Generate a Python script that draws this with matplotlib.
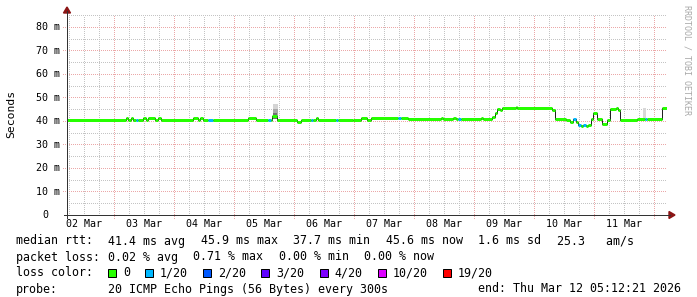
import datetime as dt
import numpy as np
import matplotlib
matplotlib.use("Agg")
import matplotlib.pyplot as plt
from matplotlib.patches import Polygon, Rectangle

# figure is 697 x 297 px, plot area 600 x 200 px (rrdtool / smokeping layout)
W, H = 697, 297
PL, PT, PW, PH = 67, 15, 600, 200

start = dt.datetime(2026, 3, 2, 5, 12, 21)
end = dt.datetime(2026, 3, 12, 5, 12, 21)
span_h = (end - start).total_seconds() / 3600.0
ymax = 85.1

# median rtt as steps: edges in hours since start, value in ms, loss level index
t_edges = [0, 23.6, 24.4, 25.6, 26.4, 27.6, 28.4, 30.4, 31.6, 32.4, 35.2, 36.4, 37.6,
           50.4, 52.4, 53.2, 54.4, 56.4, 58.4, 72.4, 75.6, 80.4, 81.6, 82.0, 84.0,
           92.0, 93.6, 97.6, 98.4, 99.6, 100.4, 107.6, 108.4, 114.4, 117.6, 120.0,
           121.6, 132.4, 133.6, 136.4, 149.6, 150.4, 154.4, 155.6, 156.4, 157.6,
           165.6, 166.4, 170.0, 171.2, 172.0, 173.2, 174.0, 179.6, 180.0, 194.0,
           195.2, 199.6, 201.2, 202.4, 203.6, 204.4, 205.6, 206.4, 207.6, 208.4,
           209.6, 210.4, 212.0, 214.0, 216.0, 217.2, 219.6, 220.4, 221.2, 228.0,
           231.2, 232.0, 238.0, 240.0]
median_ms = [40.4, 41.1, 40.4, 41.1, 40.4, 40.4, 40.4, 41.1, 40.4, 41.1, 40.4, 41.1,
             40.4, 41.1, 40.4, 41.3, 40.4, 40.4, 40.4, 41.1, 40.4, 40.4, 40.4, 42.0,
             40.4, 39.4, 40.4, 40.4, 40.4, 41.1, 40.4, 40.4, 40.4, 40.6, 41.3, 40.6,
             41.3, 41.3, 41.3, 40.9, 41.3, 40.9, 41.3, 40.9, 40.9, 40.9, 41.3, 40.9,
             41.7, 43.4, 45.1, 44.7, 45.5, 45.9, 45.5, 44.7, 40.9, 40.4, 39.6, 40.9,
             39.6, 38.3, 37.7, 38.3, 37.9, 38.3, 40.9, 43.4, 40.9, 38.7, 40.4, 45.1,
             45.5, 44.7, 40.6, 40.9, 40.9, 40.9, 45.6]
loss_idx = [0, 0, 0, 0, 0, 1, 0, 0, 0, 0, 0, 0,
            0, 0, 0, 0, 0, 1, 0, 0, 0, 1, 0, 0,
            0, 0, 0, 1, 0, 0, 0, 1, 0, 0, 0, 0,
            0, 1, 0, 0, 0, 0, 0, 0, 1, 0, 0, 0,
            0, 0, 0, 0, 0, 0, 0, 0, 0, 0, 0, 1,
            0, 1, 0, 1, 0, 0, 0, 0, 0, 0, 0, 0,
            0, 0, 0, 0, 1, 0, 0]

# smoke (ping spread) blocks: from, to (hours), low, high (ms), shade
smoke_t0 = [82.4, 82.4, 82.4, 230.4]
smoke_t1 = [84.4, 84.4, 84.0, 231.6]
smoke_lo = [41.0, 41.0, 41.0, 41.0]
smoke_hi = [47.3, 45.0, 43.2, 45.6]
smoke_col = ["#d4d4d4", "#a8a8a8", "#707070", "#d8d8d8"]

loss_colors = ["#26ff00", "#00b8ff", "#0059ff", "#5e00ff", "#7e00ff", "#dd00ff", "#ff0000"]
loss_labels = ["0", "1/20", "2/20", "3/20", "4/20", "10/20", "19/20"]

ytick_vals = [0, 10, 20, 30, 40, 50, 60, 70, 80]
ytick_labels = ["0", "10 m", "20 m", "30 m", "40 m", "50 m", "60 m", "70 m", "80 m"]

rtt_items = ["41.4 ms avg", "45.9 ms max", "37.7 ms min", "45.6 ms now", "1.6 ms sd", "25.3   am/s"]
loss_items = ["0.02 % avg", "0.71 % max", "0.00 % min", "0.00 % now"]
probe_text = "20 ICMP Echo Pings (56 Bytes) every 300s"
end_text = "end: " + end.strftime("%a %b %d %H:%M:%S %Y")

MONO = "DejaVu Sans Mono"


def fx(px):
    return px / W


def fy(py):
    return 1 - py / H


fig = plt.figure(figsize=(W / 100, H / 100), dpi=100, facecolor="white")
ax = fig.add_axes([fx(PL), fy(PT + PH), PW / W, PH / H])
ax.set_xlim(0, span_h)
ax.set_ylim(0, ymax)
for s in ax.spines.values():
    s.set_visible(False)
ax.set_xticks([])
ax.set_yticks([])

px = 0.72  # one pixel in points
hpp = span_h / PW   # hours per pixel
mpp = ymax / PH     # ms per pixel
minor_c = "#c4c4c4"
major_c = "#eba8a8"
dots = dict(lw=px, dashes=(0.5, 1.5), antialiased=False, zorder=1, clip_on=False)

# dotted grid: every 6 hours minor, midnight major
first_midnight = dt.datetime(2026, 3, 3)
off = (first_midnight - start).total_seconds() / 3600.0
t = off - 18
while t <= span_h:
    if t >= 0:
        is_major = abs(((t - off) / 24) - round((t - off) / 24)) < 1e-6
        ax.plot([t, t], [-3 * mpp if is_major else 0, ymax],
                color=major_c if is_major else minor_c, **dots)
    t += 6
for v in range(5, 90, 5):
    if v > ymax:
        break
    is_major = v % 10 == 0
    ax.plot([-4 * hpp if is_major else 0, span_h], [v, v],
            color=major_c if is_major else minor_c, **dots)

# smoke
for a, b, lo, hi, c in zip(smoke_t0, smoke_t1, smoke_lo, smoke_hi, smoke_col):
    ax.fill_between([a, b], lo, hi, color=c, lw=0, zorder=2)

# thin dark median line, then loss coloured thick segments
ax.step(t_edges, median_ms + [median_ms[-1]], where="post", color="#202020", lw=px, zorder=3)
for i, v in enumerate(median_ms):
    ax.plot([t_edges[i], t_edges[i + 1]], [v, v], color=loss_colors[loss_idx[i]],
            lw=3 * px, solid_capstyle="butt", zorder=4)

# axes lines and arrows
fig.add_artist(plt.Line2D([fx(PL), fx(PL)], [fy(PT + PH + 3), fy(11)], color="#333333",
                          lw=px, transform=fig.transFigure))
fig.add_artist(plt.Line2D([fx(PL - 3), fx(PL + PW + 3)], [fy(PT + PH), fy(PT + PH)],
                          color="#333333", lw=px, transform=fig.transFigure))
arrow_c = "#8b1414"
fig.add_artist(Polygon([(fx(67), fy(7)), (fx(63.5), fy(13)), (fx(70.5), fy(13))],
                       closed=True, color=arrow_c, transform=fig.transFigure))
fig.add_artist(Polygon([(fx(675), fy(215)), (fx(669), fy(211.5)), (fx(669), fy(218.5))],
                       closed=True, color=arrow_c, transform=fig.transFigure))

# y tick labels (right edge of "10 m" at x=60, "0" sits in digit column)
for v, lab in zip(ytick_vals, ytick_labels):
    yy = PT + PH - v * PH / ymax
    fig.text(fx(48 if lab == "0" else 60), fy(yy + 0.5), lab, ha="right", va="center",
             family=MONO, fontsize=7.2)

# x tick labels at noon of each day
d = dt.datetime(2026, 3, 2, 12)
while d < end:
    h = (d - start).total_seconds() / 3600.0
    fig.text(fx(PL + h / hpp), fy(224), d.strftime("%d %b"), ha="center", va="center",
             family=MONO, fontsize=7.2)
    d += dt.timedelta(days=1)

fig.text(fx(11), fy(114), "Seconds", rotation=90, ha="center", va="center", family=MONO,
         fontsize=8.2)
fig.text(fx(687), fy(5), "RRDTOOL / TOBI OETIKER", rotation=-90, ha="center", va="top",
         family=MONO, fontsize=6, color="#a8a8a8")

# legend rows
fs = 8.4
fig.text(fx(16), fy(241), "median rtt:", ha="left", va="center", family=MONO, fontsize=fs)
x = 108
for item in rtt_items:
    fig.text(fx(x), fy(241), item, ha="left", va="center", family=MONO, fontsize=fs)
    x += 7.05 * len(item) + 15
fig.text(fx(16), fy(257), "packet loss:", ha="left", va="center", family=MONO, fontsize=fs)
x = 108
for item in loss_items:
    fig.text(fx(x), fy(257), item, ha="left", va="center", family=MONO, fontsize=fs)
    x += 7.05 * len(item) + 15
fig.text(fx(16), fy(273), "loss color:", ha="left", va="center", family=MONO, fontsize=fs)
x = 108
for c, lab in zip(loss_colors, loss_labels):
    fig.add_artist(Rectangle((fx(x), fy(277)), 8 / W, 8 / H, facecolor=c, edgecolor="black",
                             lw=px, transform=fig.transFigure))
    fig.text(fx(x + 15), fy(273), lab, ha="left", va="center", family=MONO, fontsize=fs)
    x += 15 + 7.05 * len(lab) + 15
fig.text(fx(16), fy(289), "probe:", ha="left", va="center", family=MONO, fontsize=fs)
fig.text(fx(108), fy(289), probe_text, ha="left", va="center", family=MONO, fontsize=fs)
fig.text(fx(681), fy(289), end_text, ha="right", va="center", family=MONO, fontsize=fs)

fig.savefig("out.png", dpi=100, facecolor="white")
